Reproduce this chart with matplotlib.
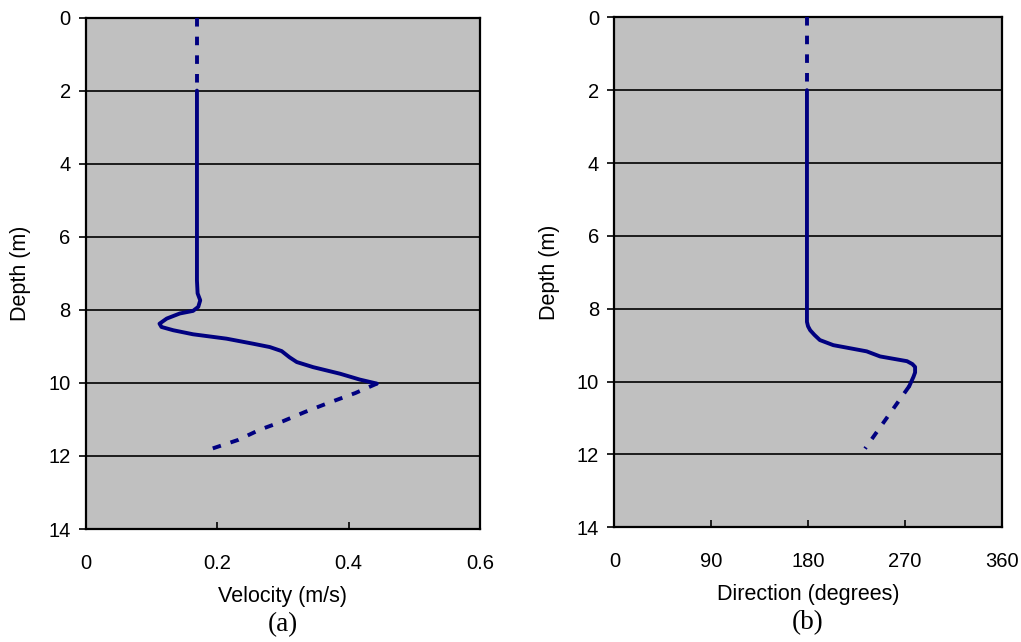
import matplotlib
matplotlib.use("Agg")
import matplotlib.pyplot as plt

# ---- data -----------------------------------------------------------------
# velocity profile (a)
vel_top_depth = [0.0, 2.0]
vel_top = [0.169, 0.169]
vel_depth = [2.0, 7.2, 7.55, 7.74, 7.92, 8.03, 8.10, 8.24, 8.38, 8.47, 8.56,
             8.67, 8.79, 8.93, 9.02, 9.13, 9.3, 9.43, 9.57, 9.75, 9.91, 10.02]
vel = [0.169, 0.169, 0.170, 0.174, 0.171, 0.163, 0.143, 0.123, 0.112, 0.115,
       0.133, 0.163, 0.214, 0.255, 0.280, 0.298, 0.310, 0.321, 0.346, 0.387,
       0.417, 0.443]
vel_bot_depth = [10.02, 10.28, 10.55, 10.8, 11.05, 11.28, 11.56, 11.8]
vel_bot = [0.443, 0.41, 0.369, 0.333, 0.30, 0.265, 0.232, 0.192]

# direction profile (b)
dir_top_depth = [0.0, 2.0]
dir_top = [179, 179]
dir_depth = [2.0, 8.36, 8.48, 8.59, 8.72, 8.86, 9.0, 9.17, 9.31, 9.44, 9.52,
             9.6, 9.75, 9.87, 10.13]
direction = [179, 179, 180, 182, 186, 191, 203.5, 234.5, 247, 272, 277,
             279.5, 279.5, 278, 274]
dir_bot_depth = [10.13, 11.84]
dir_bot = [274, 233]

depth_ticks = [0, 2, 4, 6, 8, 10, 12, 14]
vel_ticks = [0, 0.2, 0.4, 0.6]
vel_ticklabels = ["0", "0.2", "0.4", "0.6"]
dir_ticks = [0, 90, 180, 270, 360]

NAVY = "#000080"
FACE = "#c0c0c0"
SANS = "Liberation Sans"
SERIF = "Liberation Serif"
LW = 2.8
DASH = (0, (2.2, 2.6))

fig = plt.figure(figsize=(10.21, 6.42), dpi=100, facecolor="white")
ax_a = fig.add_axes([0.0842, 0.176, 0.3859, 0.7967])
ax_b = fig.add_axes([0.6017, 0.1787, 0.3794, 0.7943])


def style(ax, xlim, xticks, xlabels, xlabel, tag):
    ax.set_facecolor(FACE)
    ax.set_xlim(*xlim)
    ax.set_ylim(14, 0)
    for s in ax.spines.values():
        s.set_linewidth(1.6)
        s.set_color("black")
    for d in depth_ticks[1:-1]:
        ax.axhline(d, color="black", lw=1.2, zorder=1)
    ax.set_yticks(depth_ticks)
    ax.set_xticks(xticks)
    ax.set_xticklabels(xlabels)
    ax.tick_params(axis="x", direction="in", length=5, width=1.2, pad=18,
                   labelsize=14.5)
    ax.tick_params(axis="y", direction="out", length=5, width=1.2, pad=6,
                   labelsize=14.5)
    for lab in ax.get_xticklabels() + ax.get_yticklabels():
        lab.set_fontfamily(SANS)
    ax.set_ylabel("Depth (m)", fontsize=15.5, family=SANS)
    ax.yaxis.set_label_coords(-0.14, 0.5)
    ax.set_xlabel(xlabel, fontsize=15.5, family=SANS, va="top")
    ax.xaxis.set_label_coords(0.5, -0.112)
    # panel tag sits just under the axis title, flush with the bottom edge
    ax.text(0.5, -0.163, tag, transform=ax.transAxes, ha="center", va="top",
            fontsize=19.5, family=SERIF)


style(ax_a, (0, 0.6), vel_ticks, vel_ticklabels, "Velocity (m/s)", "(a)")
style(ax_b, (0, 360), dir_ticks, [str(t) for t in dir_ticks],
      "Direction (degrees)", "(b)")

ax_a.plot(vel_top, vel_top_depth, color=NAVY, lw=LW, ls=DASH, zorder=3)
ax_a.plot(vel, vel_depth, color=NAVY, lw=LW, solid_joinstyle="round",
          solid_capstyle="round", zorder=3)
ax_a.plot(vel_bot, vel_bot_depth, color=NAVY, lw=LW, ls=DASH, zorder=3)

ax_b.plot(dir_top, dir_top_depth, color=NAVY, lw=LW, ls=DASH, zorder=3)
ax_b.plot(direction, dir_depth, color=NAVY, lw=LW, solid_joinstyle="round",
          solid_capstyle="round", zorder=3)
ax_b.plot(dir_bot, dir_bot_depth, color=NAVY, lw=LW, ls=DASH, zorder=3)

fig.savefig("out.png", dpi=100, facecolor="white")
